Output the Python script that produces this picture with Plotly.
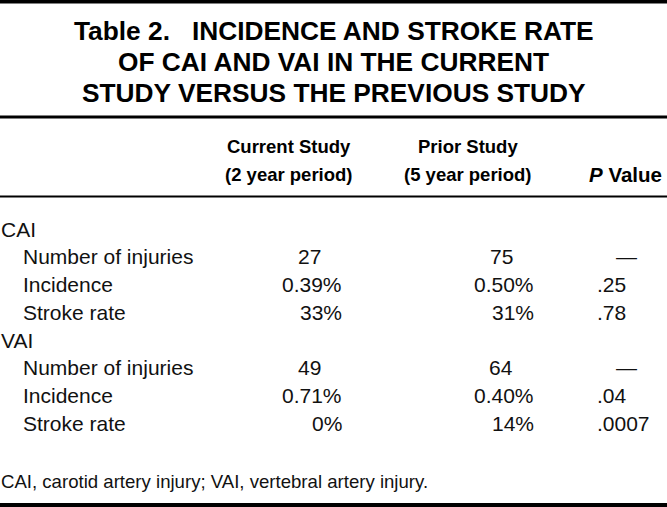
import plotly.graph_objects as go

# ---- data ----
title_lines = [
    "Table 2.   INCIDENCE AND STROKE RATE",
    "OF CAI AND VAI IN THE CURRENT",
    "STUDY VERSUS THE PREVIOUS STUDY",
]
header_top = ["Current Study", "Prior Study", ""]
header_bottom = ["(2 year period)", "(5 year period)", "<i>P</i> Value"]
groups = ["CAI", "VAI"]
measures = ["Number of injuries", "Incidence", "Stroke rate"]
current_study = [["27", "0.39%", "33%"], ["49", "0.71%", "0%"]]
prior_study = [["75", "0.50%", "31%"], ["64", "0.40%", "14%"]]
p_values = [["—", ".25", ".78"], ["—", ".04", ".0007"]]
footnote = "CAI, carotid artery injury; VAI, vertebral artery injury."

# ---- layout constants ----
W, H = 667, 507
TITLE_FONT = dict(family="Liberation Sans, Arial", size=26.3, color="black")
HEAD_FONT = dict(family="Liberation Sans, Arial", size=18.5, color="black")
PHEAD_FONT = dict(family="Liberation Sans, Arial", size=20.5, color="black")
BODY_FONT = dict(family="Liberation Sans, Arial", size=21, color="#111")
FOOT_FONT = dict(family="Liberation Sans, Arial", size=18.6, color="#111")

title_y = [30.5, 61.5, 92.5]
head_y = [146, 174]
group_y = [229, 340]
row_step = 27.8

fig = go.Figure()
fig.add_trace(go.Scatter(x=[], y=[], mode="markers", showlegend=False))

ann = []
def txt(x, y, s, font, xanchor="left", bold=False):
    if bold:
        s = "<b>" + s + "</b>"
    ann.append(dict(x=x, y=y, xref="x", yref="y", text=s, showarrow=False,
                    xanchor=xanchor, yanchor="middle", font=font, borderpad=0))

for ty, line in zip(title_y, title_lines):
    txt(W / 2, ty, line, TITLE_FONT, "center", bold=True)

head_cx = [289, 468]
for cx, t, b in zip(head_cx, header_top[:2], header_bottom[:2]):
    txt(cx, head_y[0], t, HEAD_FONT, "center", bold=True)
    txt(cx, head_y[1], b, HEAD_FONT, "center", bold=True)
txt(663, head_y[1], header_bottom[2], PHEAD_FONT, "right", bold=True)

cur_pct_right, cur_cnt_right = 343, 322
pri_pct_right, pri_cnt_right = 535, 514
p_left, dash_cx = 596, 626

for gi, g in enumerate(groups):
    gy = group_y[gi]
    txt(0, gy, g, BODY_FONT, "left")
    for mi, m in enumerate(measures):
        y = gy + row_step * (mi + 1)
        txt(22, y, m, BODY_FONT, "left")
        cv = current_study[gi][mi]
        txt(cur_pct_right if cv.endswith("%") else cur_cnt_right, y, cv, BODY_FONT, "right")
        pv = prior_study[gi][mi]
        txt(pri_pct_right if pv.endswith("%") else pri_cnt_right, y, pv, BODY_FONT, "right")
        p = p_values[gi][mi]
        if p == "—":
            txt(dash_cx, y, p, BODY_FONT, "center")
        else:
            txt(p_left, y, p, BODY_FONT, "left")

txt(0, 481.5, footnote, FOOT_FONT, "left")

shapes = [
    dict(type="rect", xref="x", yref="y", x0=0, x1=W, y0=0, y1=3.5, fillcolor="black", line=dict(width=0)),
    dict(type="rect", xref="x", yref="y", x0=0, x1=W, y0=115.5, y1=118.5, fillcolor="black", line=dict(width=0)),
    dict(type="rect", xref="x", yref="y", x0=0, x1=W, y0=195.5, y1=197.5, fillcolor="black", line=dict(width=0)),
    dict(type="rect", xref="x", yref="y", x0=0, x1=W, y0=503, y1=507, fillcolor="black", line=dict(width=0)),
]

fig.update_layout(
    width=W, height=H,
    margin=dict(l=0, r=0, t=0, b=0),
    paper_bgcolor="white", plot_bgcolor="white",
    xaxis=dict(range=[0, W], visible=False, fixedrange=True),
    yaxis=dict(range=[H, 0], visible=False, fixedrange=True),
    annotations=ann, shapes=shapes, showlegend=False,
)
fig.write_html("out.html", config={"displayModeBar": False},
               post_script="document.body.style.margin='0px';document.body.style.overflow='hidden';")
